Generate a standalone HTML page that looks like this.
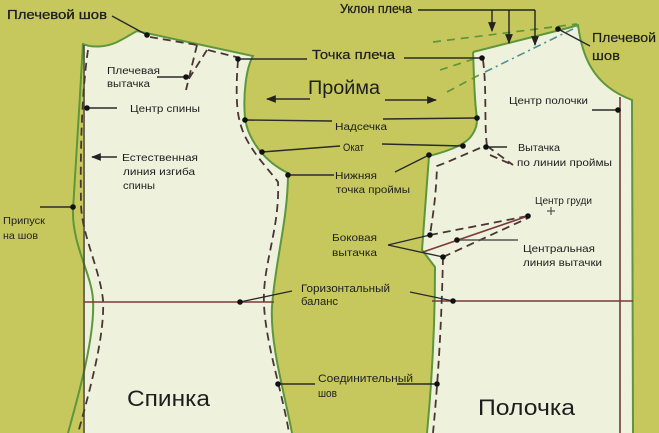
<!DOCTYPE html>
<html><head><meta charset="utf-8"><style>
html,body{margin:0;padding:0;background:#c6c85e;}
svg{display:block;}
text{font-family:"Liberation Sans",sans-serif;fill:#1e1e1e;}
</style></head><body>
<svg width="659" height="433" viewBox="0 0 659 433" xmlns="http://www.w3.org/2000/svg">
<rect x="0" y="0" width="659" height="433" fill="#c6c85e"/>
<defs>
<marker id="ah" viewBox="0 0 10 10" refX="9" refY="5" markerWidth="7" markerHeight="7" orient="auto-start-reverse"><path d="M0,1 L10,5 L0,9 z" fill="#222"/></marker>
</defs>

<!-- BACK piece fill -->
<path d="M83,44 C92,48 105,47 115,43 C124,39 131,34 137,31 L253,56 C246,68 243,95 245,118 C248,140 265,162 288,173 C288,220 275,262 272,307 C270,345 285,395 292,433 L83,433 Z" fill="#eef2dd"/>
<path d="M83,44 C92,48 105,47 115,43 C124,39 131,34 137,31 L253,56 C246,68 243,95 245,118 C248,140 265,162 288,173 C288,220 275,262 272,307 C270,345 285,395 292,433" fill="none" stroke="#5e963a" stroke-width="2"/>
<path d="M83,43 C80,100 75,170 73,210 C72,245 92,275 93,300 C95,335 80,390 68,433" fill="none" stroke="#5e963a" stroke-width="2"/>
<line x1="84" y1="45" x2="84" y2="433" stroke="#4a4a3a" stroke-width="1.6"/>
<g fill="none" stroke="#4a3535" stroke-width="1.8" stroke-dasharray="8,5">
<path d="M88,50 C82,90 80,150 81,205 C82,235 100,270 103,300 C105,335 90,390 78,433"/>
<path d="M150,37 L197,45"/>
<path d="M197,45 L186,90"/>
<path d="M207,50 L188,80"/>
<path d="M208,50 L240,58"/>
<path d="M238,60 C236,85 236,110 240,122 C245,145 265,165 278,182 C280,230 262,265 264,305 C266,345 283,395 289,433"/>
</g>
<line x1="84" y1="302" x2="274" y2="302" stroke="#7a3a3a" stroke-width="1.6"/>

<!-- FRONT piece -->
<path d="M473,52 L568,28 L578,25 C582,55 592,85 632,100 L633,433 L427,433 C432,380 435,320 435,267 L422,250 L429,156 C445,152 466,145 472,135 C477,128 477,122 477,118 C474,100 474,70 473,52 Z" fill="#eef2dd"/>
<path d="M473,52 L568,28 L578,25 C582,55 592,85 632,100 L633,433 M427,433 C432,380 435,320 435,267 L422,250 L429,156 C445,152 466,145 472,135 C477,128 477,122 477,118 C474,100 474,70 473,52" fill="none" stroke="#5e963a" stroke-width="2"/>
<line x1="620" y1="97" x2="620" y2="433" stroke="#6e3c3c" stroke-width="1.6"/>
<line x1="432" y1="301" x2="633" y2="301" stroke="#7a3a3a" stroke-width="1.6"/>

<g fill="none" stroke="#5e963a" stroke-width="1.7" stroke-dasharray="8,6">
<path d="M433,42 L577,24"/>
<path d="M440,70 L480,57"/>
<path d="M447,92 L479,75"/>
</g>
<path d="M485,72 L577,27" fill="none" stroke="#4c8f98" stroke-width="1.6" stroke-dasharray="8,4,2,4"/>

<g fill="none" stroke="#4a3535" stroke-width="1.8" stroke-dasharray="8,5">
<path d="M483,60 C487,90 484,125 487,146"/>
<path d="M480,148 L445,163 L437,166 C436,200 432,220 430,235"/>
<path d="M487,146 L513,165"/>
<path d="M490,155 L513,165"/>
<path d="M430,235 L528,216"/>
<path d="M443,257 L528,218"/>
<path d="M443,257 C442,300 440,360 433,433"/>
</g>
<line x1="423" y1="252" x2="528" y2="216" stroke="#7a3a3a" stroke-width="1.6"/>

<g stroke="#222" stroke-width="1.4" fill="none">
<path d="M418,10 L535,10"/>
<path d="M492,10 L492,31" marker-end="url(#ah)"/>
<path d="M509,10 L509,43" marker-end="url(#ah)"/>
<path d="M535,10 L535,45" marker-end="url(#ah)"/>
</g>

<g stroke="#2a2a2a" stroke-width="1.4" fill="none">
<path d="M112,16 L147,35"/>
<path d="M157,77 L186,77"/>
<path d="M87,108 L117,108"/>
<path d="M40,207 L73,207"/>
<path d="M238,59 L307,59"/>
<path d="M404,58 L482,58"/>
<path d="M245,120 L332,121"/>
<path d="M383,119 L477,118"/>
<path d="M262,152 L340,146"/>
<path d="M382,144 L463,146"/>
<path d="M288,175 L334,175"/>
<path d="M395,172 L429,155"/>
<path d="M558,29 L590,46"/>
<path d="M592,110 L618,110"/>
<path d="M486,147 L507,147"/>
<path d="M388,245 L430,235"/>
<path d="M388,245 L443,257"/>
<path d="M457,240 L518,240" stroke="#555"/>
<path d="M240,302 L292,291"/>
<path d="M410,292 L453,301"/>
<path d="M278,384 L315,384"/>
<path d="M397,384 L437,384"/>
<path d="M117,157 L92,157" marker-end="url(#ah)"/>
<path d="M310,99 L267,99" marker-end="url(#ah)"/>
<path d="M385,100 L436,100" marker-end="url(#ah)"/>
</g>

<g fill="#111">
<circle cx="147" cy="35" r="2.8"/>
<circle cx="186" cy="77" r="2.8"/>
<circle cx="87" cy="108" r="2.8"/>
<circle cx="73" cy="207" r="2.8"/>
<circle cx="238" cy="59" r="2.8"/>
<circle cx="245" cy="120" r="2.8"/>
<circle cx="262" cy="152" r="2.8"/>
<circle cx="288" cy="175" r="2.8"/>
<circle cx="240" cy="302" r="2.8"/>
<circle cx="278" cy="384" r="2.8"/>
<circle cx="482" cy="58" r="2.8"/>
<circle cx="477" cy="118" r="2.8"/>
<circle cx="463" cy="146" r="2.8"/>
<circle cx="429" cy="155" r="2.8"/>
<circle cx="558" cy="29" r="2.8"/>
<circle cx="618" cy="110" r="2.8"/>
<circle cx="486" cy="147" r="2.8"/>
<circle cx="528" cy="216" r="2.8"/>
<circle cx="430" cy="235" r="2.8"/>
<circle cx="443" cy="257" r="2.8"/>
<circle cx="457" cy="240" r="2.8"/>
<circle cx="453" cy="301" r="2.8"/>
<circle cx="437" cy="384" r="2.8"/>
</g>
<path d="M551,207 L551,215 M547,211 L555,211" stroke="#555" stroke-width="1.2"/>

<text x="7" y="19" font-size="13" textLength="100" lengthAdjust="spacingAndGlyphs" stroke="#1e1e1e" stroke-width="0.3">Плечевой шов</text>
<text x="107" y="74" font-size="10" textLength="53" lengthAdjust="spacingAndGlyphs">Плечевая</text>
<text x="107" y="87" font-size="10" textLength="43" lengthAdjust="spacingAndGlyphs">вытачка</text>
<text x="130" y="112" font-size="10.5" textLength="70" lengthAdjust="spacingAndGlyphs">Центр спины</text>
<text x="122" y="161" font-size="10.5" textLength="76" lengthAdjust="spacingAndGlyphs">Естественная</text>
<text x="123" y="175" font-size="10.5" textLength="72" lengthAdjust="spacingAndGlyphs">линия изгиба</text>
<text x="123" y="189" font-size="10.5" textLength="32" lengthAdjust="spacingAndGlyphs">спины</text>
<text x="3" y="224" font-size="10.5" textLength="42" lengthAdjust="spacingAndGlyphs">Припуск</text>
<text x="3" y="239" font-size="10.5" textLength="35" lengthAdjust="spacingAndGlyphs">на шов</text>
<text x="127" y="406" font-size="22" textLength="83" lengthAdjust="spacingAndGlyphs">Спинка</text>

<text x="340" y="13" font-size="13" textLength="72" lengthAdjust="spacingAndGlyphs" stroke="#1e1e1e" stroke-width="0.3">Уклон плеча</text>
<text x="312" y="59" font-size="12.5" textLength="83" lengthAdjust="spacingAndGlyphs" stroke="#1e1e1e" stroke-width="0.2">Точка плеча</text>
<text x="308" y="94" font-size="19" textLength="72" lengthAdjust="spacingAndGlyphs">Пройма</text>
<text x="335" y="130" font-size="10" textLength="52" lengthAdjust="spacingAndGlyphs">Надсечка</text>
<text x="343" y="151" font-size="11" textLength="21" lengthAdjust="spacingAndGlyphs">Окат</text>
<text x="335" y="179" font-size="10.5" textLength="42" lengthAdjust="spacingAndGlyphs">Нижняя</text>
<text x="336" y="193" font-size="10.5" textLength="74" lengthAdjust="spacingAndGlyphs">точка проймы</text>
<text x="332" y="241" font-size="10.5" textLength="45" lengthAdjust="spacingAndGlyphs">Боковая</text>
<text x="332" y="256" font-size="10.5" textLength="45" lengthAdjust="spacingAndGlyphs">вытачка</text>
<text x="301" y="292" font-size="11" textLength="89" lengthAdjust="spacingAndGlyphs">Горизонтальный</text>
<text x="301" y="305" font-size="11" textLength="37" lengthAdjust="spacingAndGlyphs">баланс</text>
<text x="318" y="382" font-size="11" textLength="95" lengthAdjust="spacingAndGlyphs">Соединительный</text>
<text x="318" y="397" font-size="11" textLength="19" lengthAdjust="spacingAndGlyphs">шов</text>

<text x="592" y="42" font-size="12.5" textLength="64" lengthAdjust="spacingAndGlyphs" stroke="#1e1e1e" stroke-width="0.2">Плечевой</text>
<text x="592" y="60" font-size="12.5" textLength="28" lengthAdjust="spacingAndGlyphs" stroke="#1e1e1e" stroke-width="0.2">шов</text>
<text x="509" y="104" font-size="10" textLength="79" lengthAdjust="spacingAndGlyphs">Центр полочки</text>
<text x="518" y="151" font-size="10" textLength="42" lengthAdjust="spacingAndGlyphs">Вытачка</text>
<text x="517" y="166" font-size="10" textLength="95" lengthAdjust="spacingAndGlyphs">по линии проймы</text>
<text x="535" y="204" font-size="10.5" textLength="57" lengthAdjust="spacingAndGlyphs">Центр груди</text>
<text x="523" y="252" font-size="10.5" textLength="72" lengthAdjust="spacingAndGlyphs">Центральная</text>
<text x="523" y="266" font-size="10.5" textLength="79" lengthAdjust="spacingAndGlyphs">линия вытачки</text>
<text x="478" y="415" font-size="22" textLength="97" lengthAdjust="spacingAndGlyphs">Полочка</text>
</svg>
</body></html>
